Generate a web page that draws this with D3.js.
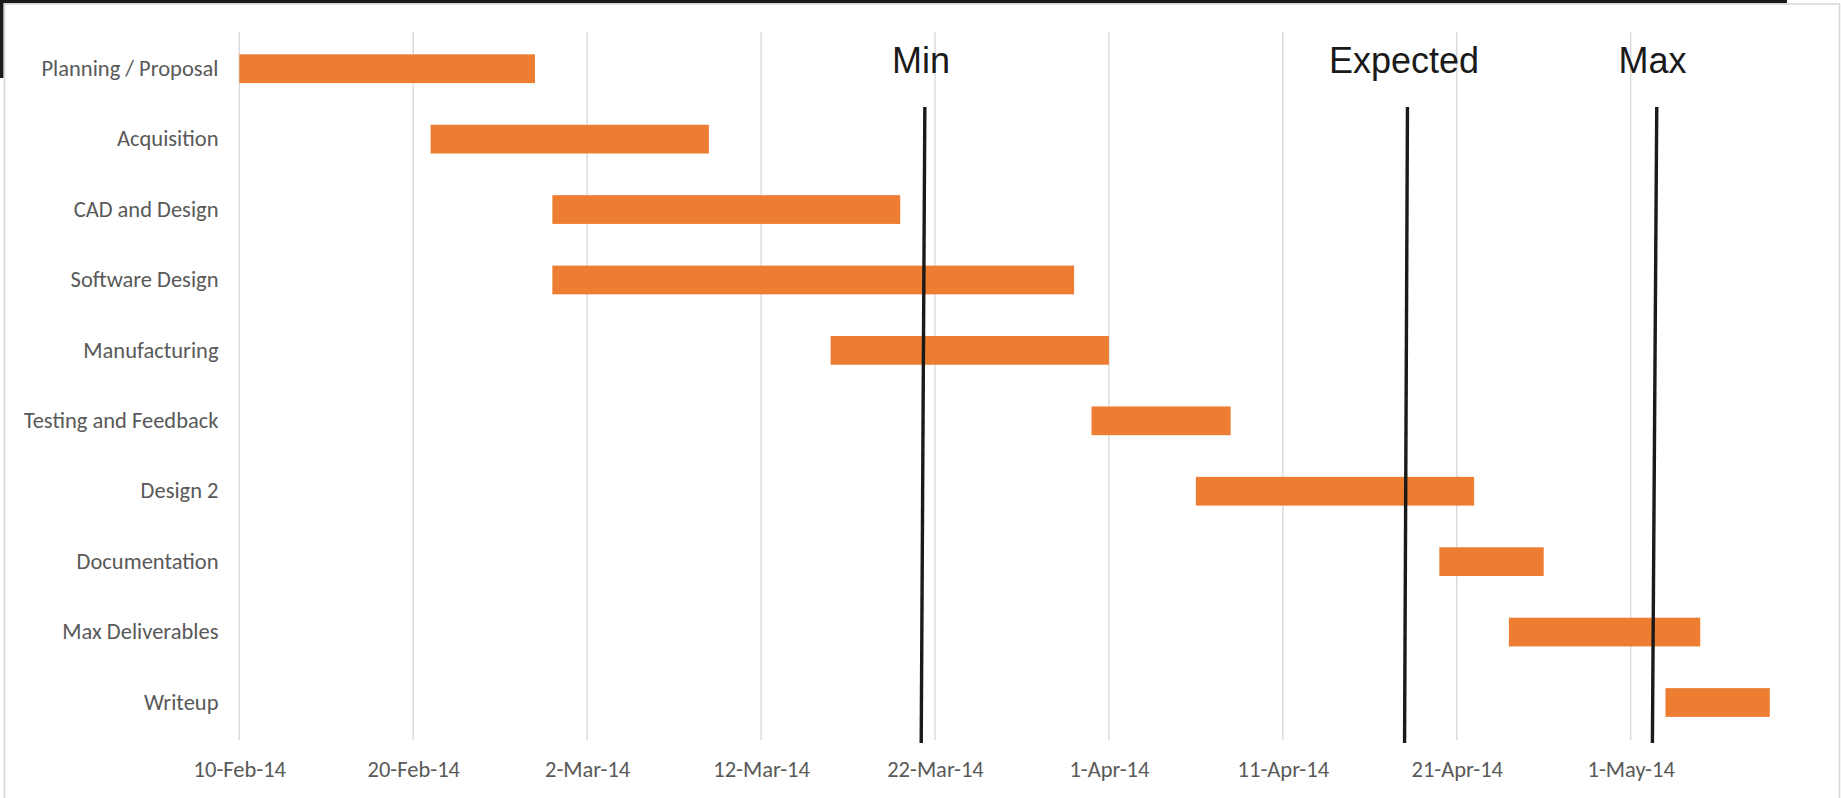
<!DOCTYPE html>
<html>
<head>
<meta charset="utf-8">
<script src="https://cdn.jsdelivr.net/npm/d3@7/dist/d3.min.js"></script>
<style>
  html, body { margin: 0; padding: 0; background: #ffffff; }
  svg { display: block; }
  .cat text, .date text { font-family: Carlito, Calibri, Lato, sans-serif; font-size: 22.5px; fill: #595959; }
  .marker-label { font-family: "Liberation Sans", Arial, sans-serif; font-size: 36px; fill: #1a1a1a; }
</style>
</head>
<body>
<svg id="chart" width="1841" height="798"></svg>
<script>
// Project schedule: one task per row, start/end dates
const categories = [
  "Planning / Proposal", "Acquisition", "CAD and Design", "Software Design",
  "Manufacturing", "Testing and Feedback", "Design 2", "Documentation",
  "Max Deliverables", "Writeup"
];
const startDates = [
  "2014-02-10", "2014-02-21", "2014-02-28", "2014-02-28", "2014-03-16",
  "2014-03-31", "2014-04-06", "2014-04-20", "2014-04-24", "2014-05-03"
];
const endDates = [
  "2014-02-27", "2014-03-09", "2014-03-20", "2014-03-30", "2014-04-01",
  "2014-04-08", "2014-04-22", "2014-04-26", "2014-05-05", "2014-05-09"
];

// Date axis
const axisRange = ["2014-02-10", "2014-05-10"];
const tickDates = [
  "2014-02-10", "2014-02-20", "2014-03-02", "2014-03-12", "2014-03-22",
  "2014-04-01", "2014-04-11", "2014-04-21", "2014-05-01"
];

// Completion markers (hand-drawn lines, top and bottom end dates)
const markerLabels = ["Min", "Expected", "Max"];
const markerTop = ["2014-03-21T10:00", "2014-04-18T04:00", "2014-05-02T12:00"];
const markerBottom = ["2014-03-21T05:00", "2014-04-18T00:00", "2014-05-02T06:00"];

const parseDay = d3.utcParse("%Y-%m-%d");
const parseTime = d3.utcParse("%Y-%m-%dT%H:%M");
const fmt = d3.utcFormat("%-d-%b-%y");

const svg = d3.select("#chart");

// Window frame around the chart panel
svg.append("rect").attr("x", 0).attr("y", 0).attr("width", 1787).attr("height", 3.2).attr("fill", "#1b1b1b");
svg.append("rect").attr("x", 0).attr("y", 0).attr("width", 3.5).attr("height", 78).attr("fill", "#1b1b1b");
const frame = svg.append("g").attr("stroke", "#d6d6d6").attr("stroke-width", 1.5);
frame.append("line").attr("x1", 4.5).attr("x2", 4.5).attr("y1", 3.5).attr("y2", 798);
frame.append("line").attr("x1", 4).attr("x2", 1840).attr("y1", 4).attr("y2", 4);
frame.append("line").attr("x1", 1839.5).attr("x2", 1839.5).attr("y1", 3.5).attr("y2", 798);

const plotLeft = 239.3, dayWidth = 17.392;
const plotTop = 33.5, plotBottom = 737.7;

const x = d3.scaleUtc()
  .domain(axisRange.map(parseDay))
  .range([plotLeft, plotLeft + 89 * dayWidth]);

const y = d3.scaleBand()
  .domain(categories)
  .range([plotTop, plotBottom])
  .paddingInner(0.592)
  .paddingOuter(0.296);

// Vertical gridlines at each date tick
svg.append("g")
  .selectAll("line")
  .data(tickDates.map(parseDay))
  .join("line")
  .attr("x1", d => x(d)).attr("x2", d => x(d))
  .attr("y1", 32).attr("y2", 740)
  .attr("stroke", "#d9d9d9").attr("stroke-width", 1.4);

// Task bars
svg.append("g")
  .selectAll("rect")
  .data(categories.map((c, i) => ({ c, s: parseDay(startDates[i]), e: parseDay(endDates[i]) })))
  .join("rect")
  .attr("x", d => x(d.s))
  .attr("y", d => y(d.c))
  .attr("width", d => x(d.e) - x(d.s))
  .attr("height", y.bandwidth())
  .attr("fill", "#ed7d31");

// Category axis
const yAxis = svg.append("g")
  .attr("class", "cat")
  .attr("transform", `translate(${plotLeft},0)`)
  .call(d3.axisLeft(y).tickSize(0).tickPadding(20.8));
yAxis.select(".domain").remove();

// Date axis
const xAxis = svg.append("g")
  .attr("class", "date")
  .attr("transform", `translate(0,${plotBottom})`)
  .call(d3.axisBottom(x).tickValues(tickDates.map(parseDay)).tickFormat(fmt).tickSize(0).tickPadding(23));
xAxis.select(".domain").remove();

// Marker lines and their labels
const markers = markerLabels.map((label, i) => ({
  label, top: parseTime(markerTop[i]), bottom: parseTime(markerBottom[i])
}));
const mg = svg.append("g");
mg.selectAll("line")
  .data(markers)
  .join("line")
  .attr("x1", d => x(d.top)).attr("y1", 107)
  .attr("x2", d => x(d.bottom)).attr("y2", 743)
  .attr("stroke", "#1a1a1a").attr("stroke-width", 3.4);
mg.selectAll("text")
  .data(markers)
  .join("text")
  .attr("class", "marker-label")
  .attr("x", d => (x(d.top) + x(d.bottom)) / 2 - 2)
  .attr("y", 73)
  .attr("text-anchor", "middle")
  .text(d => d.label);
</script>
</body>
</html>
